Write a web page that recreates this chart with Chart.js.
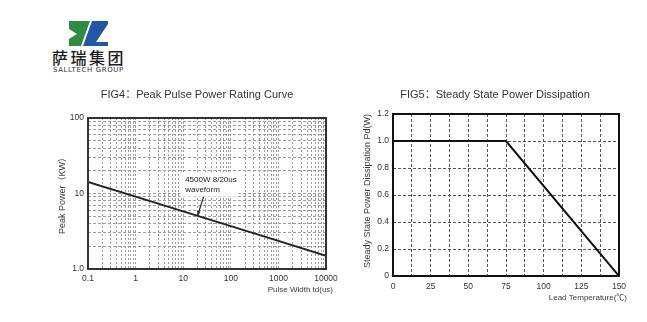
<!DOCTYPE html>
<html>
<head>
<meta charset="utf-8">
<script src="https://cdn.jsdelivr.net/npm/chart.js@4.4.1/dist/chart.umd.min.js"></script>
<style>
  body { margin: 0; background: #fff; }
  #page { position: relative; width: 647px; height: 322px; overflow: hidden; background: #fff; }
  canvas { position: absolute; left: 0; top: 0; }
  #logo { position: absolute; left: 0; top: 0; }
  #logoCn { position: absolute; left: 52px; top: 49px; font: 500 16px/16px "Noto Sans CJK SC", sans-serif; letter-spacing: 2.5px; color: #1e1e1e; white-space: nowrap; }
  #logoEn { position: absolute; left: 53px; top: 67px; font: 7px/7px "DejaVu Sans", sans-serif; letter-spacing: 0.6px; color: #333; white-space: nowrap; }
</style>
</head>
<body>
<div id="page">
  <svg id="logo" width="130" height="50">
    <polygon points="69,21 90,21 81,46 69,46 69,39 77,34 69,29" fill="#2e8b3f"/>
    <polygon points="92,21 108,21 108,24 96,42 108,42 108,46 83,46" fill="#2456a8"/>
  </svg>
  <div id="logoCn">萨瑞集团</div>
  <div id="logoEn">SALLTECH GROUP</div>
  <canvas id="pulseChart" width="647" height="322"></canvas>
  <canvas id="steadyChart" width="647" height="322"></canvas>
</div>
<script>
// FIG4 data (log-log)
const pulseWidth = [0.1, 1, 10, 100, 1000, 10000];
const peakPower = [14.2, 9.1, 5.8, 3.7, 2.36, 1.5];
const pulseDecades = [0.1, 1, 10, 100, 1000, 10000];
const pulseTickLabels = ["0.1", "1", "10", "100", "1000", "10000"];
const powerDecades = [1, 10, 100];
const powerTickLabels = ["1.0", "10", "100"];
const noteLines = ["4500W 8/20us", "waveform"];
const notePoint = { x: 11, y: 15.3 };
const arrowTip = { x: 20, y: 5.06 };

// FIG5 data
const leadTemp = [0, 75, 150];
const steadyPower = [1.0, 1.0, 0];
const tempTickLabels = ["0", "25", "50", "75", "100", "125", "150"];
const steadyTickLabels = ["0", "0.2", "0.4", "0.6", "0.8", "1.0", "1.2"];

const fontFamily = "'Liberation Sans', Arial, 'Noto Sans CJK SC', sans-serif";
Chart.defaults.font.family = fontFamily;

function logTicks(decades) {
  const ticks = [];
  for (let i = 0; i < decades.length; i++) {
    ticks.push({ value: decades[i], major: true });
    if (i < decades.length - 1) {
      for (let m = 2; m <= 9; m++) ticks.push({ value: decades[i] * m, major: false });
    }
  }
  return ticks;
}

function drawText(ctx, text, x, y, size, color, align, rotate) {
  ctx.save();
  ctx.font = size + "px " + fontFamily;
  ctx.fillStyle = color;
  ctx.textAlign = align || "center";
  ctx.textBaseline = "middle";
  ctx.translate(x, y);
  if (rotate) ctx.rotate(-Math.PI / 2);
  ctx.fillText(text, 0, 0);
  ctx.restore();
}

function drawFrame(chart, color) {
  const a = chart.chartArea;
  const ctx = chart.ctx;
  ctx.save();
  ctx.strokeStyle = color;
  ctx.lineWidth = 2;
  ctx.strokeRect(a.left, a.top, a.right - a.left, a.bottom - a.top);
  ctx.restore();
}

const pulseDecor = {
  id: "pulseDecor",
  beforeDatasetsDraw(chart) {
    const ctx = chart.ctx;
    const x = chart.scales.x.getPixelForValue(notePoint.x);
    const y = chart.scales.y.getPixelForValue(notePoint.y);
    ctx.save();
    ctx.fillStyle = "#fff";
    ctx.fillRect(x - 5, y - 7, 58, 24);
    ctx.restore();
  },
  afterDatasetsDraw(chart) {
    const ctx = chart.ctx;
    const a = chart.chartArea;
    drawFrame(chart, "#333");

    const x = chart.scales.x.getPixelForValue(notePoint.x);
    const y = chart.scales.y.getPixelForValue(notePoint.y);
    drawText(ctx, noteLines[0], x, y, 8, "#222", "left");
    drawText(ctx, noteLines[1], x, y + 10, 8, "#222", "left");

    // arrow to the curve
    const tx = chart.scales.x.getPixelForValue(arrowTip.x);
    const ty = chart.scales.y.getPixelForValue(arrowTip.y);
    const sx = tx + 6, sy = ty - 19;
    const ang = Math.atan2(ty - sy, tx - sx);
    ctx.save();
    ctx.strokeStyle = "#222";
    ctx.fillStyle = "#222";
    ctx.lineWidth = 1.2;
    ctx.beginPath();
    ctx.moveTo(sx, sy);
    ctx.lineTo(tx, ty);
    ctx.stroke();
    ctx.beginPath();
    ctx.moveTo(tx, ty);
    ctx.lineTo(tx - 5 * Math.cos(ang - 0.35), ty - 5 * Math.sin(ang - 0.35));
    ctx.lineTo(tx - 5 * Math.cos(ang + 0.35), ty - 5 * Math.sin(ang + 0.35));
    ctx.closePath();
    ctx.fill();
    ctx.restore();

    drawText(ctx, "FIG4：Peak Pulse Power Rating Curve", 197, 95, 11, "#333");
    drawText(ctx, "Peak Power（KW）", a.left - 25, (a.top + a.bottom) / 2, 9, "#3a3a3a", "center", true);
    drawText(ctx, "Pulse Width td(us)", a.right + 7, a.bottom + 21, 8, "#3a3a3a", "right");
  }
};

const steadyDecor = {
  id: "steadyDecor",
  afterDatasetsDraw(chart) {
    const ctx = chart.ctx;
    const a = chart.chartArea;
    drawFrame(chart, "#111");
    drawText(ctx, "FIG5：Steady State Power Dissipation", 495, 95, 11, "#333");
    drawText(ctx, "Steady State Power Dissipation Pd(W)", a.left - 25, (a.top + a.bottom) / 2 - 4, 9, "#3a3a3a", "center", true);
    drawText(ctx, "Lead Temperature(℃)", a.right + 8, a.bottom + 22, 8, "#3a3a3a", "right");
  }
};

const tickFont = { size: 8.5 };

new Chart(document.getElementById("pulseChart"), {
  type: "line",
  data: {
    datasets: [{
      data: pulseWidth.map((w, i) => ({ x: w, y: peakPower[i] })),
      borderColor: "#222",
      borderWidth: 2,
      pointRadius: 0,
      fill: false,
      tension: 0
    }]
  },
  options: {
    responsive: false,
    animation: false,
    devicePixelRatio: 1,
    layout: { padding: { left: 0, top: 118, right: 321, bottom: 0 } },
    plugins: { legend: { display: false }, tooltip: { enabled: false } },
    scales: {
      x: {
        type: "logarithmic",
        min: 0.1,
        max: 10000,
        afterBuildTicks: s => { s.ticks = logTicks(pulseDecades); },
        afterFit: s => { s.height = 53; s.paddingLeft = 0; s.paddingRight = 0; },
        grid: { color: "#9c9c9c", lineWidth: 1, drawTicks: false },
        border: { display: false, dash: [2, 2] },
        ticks: {
          autoSkip: false, maxRotation: 0, minRotation: 0, padding: 5,
          color: "#333", font: tickFont,
          callback: v => { const i = pulseDecades.indexOf(v); return i >= 0 ? pulseTickLabels[i] : ""; }
        }
      },
      y: {
        type: "logarithmic",
        min: 1,
        max: 100,
        afterBuildTicks: s => { s.ticks = logTicks(powerDecades); },
        afterFit: s => { s.width = 88; s.paddingTop = 0; s.paddingBottom = 0; },
        grid: { color: "#9c9c9c", lineWidth: 1, drawTicks: false },
        border: { display: false, dash: [3, 2] },
        ticks: {
          autoSkip: false, padding: 4, color: "#333", font: tickFont,
          callback: v => { const i = powerDecades.indexOf(v); return i >= 0 ? powerTickLabels[i] : ""; }
        }
      }
    }
  },
  plugins: [pulseDecor]
});

new Chart(document.getElementById("steadyChart"), {
  type: "line",
  data: {
    datasets: [{
      data: leadTemp.map((t, i) => ({ x: t, y: steadyPower[i] })),
      borderColor: "#111",
      borderWidth: 2,
      pointRadius: 0,
      fill: false,
      tension: 0
    }]
  },
  options: {
    responsive: false,
    animation: false,
    devicePixelRatio: 1,
    layout: { padding: { left: 0, top: 114, right: 28, bottom: 0 } },
    plugins: { legend: { display: false }, tooltip: { enabled: false } },
    scales: {
      x: {
        type: "linear",
        min: 0,
        max: 150,
        afterFit: s => { s.height = 46; s.paddingLeft = 0; s.paddingRight = 0; },
        grid: { color: "#555", lineWidth: 1, drawTicks: false },
        border: { display: false, dash: [3, 2] },
        ticks: {
          stepSize: 12.5, autoSkip: false, maxRotation: 0, minRotation: 0, padding: 6,
          color: "#333", font: tickFont,
          callback: v => (v % 25 === 0 ? tempTickLabels[v / 25] : "")
        }
      },
      y: {
        type: "linear",
        min: 0,
        max: 1.2,
        afterFit: s => { s.width = 393; s.paddingTop = 0; s.paddingBottom = 0; },
        grid: { color: "#555", lineWidth: 1, drawTicks: false },
        border: { display: false, dash: [3, 2] },
        ticks: {
          stepSize: 0.2, autoSkip: false, padding: 4, color: "#333", font: tickFont,
          callback: v => steadyTickLabels[Math.round(v / 0.2)]
        }
      }
    }
  },
  plugins: [steadyDecor]
});
</script>
</body>
</html>
